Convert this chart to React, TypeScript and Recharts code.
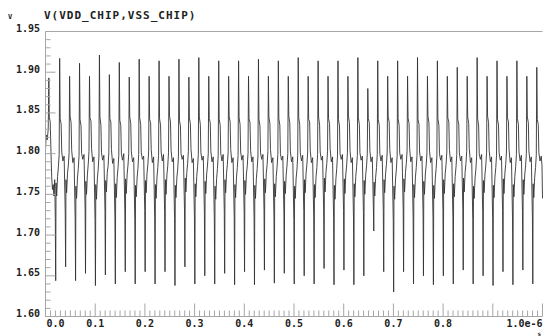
import { LineChart, Line, XAxis, YAxis, ReferenceLine } from 'recharts';

const title = 'V(VDD_CHIP,VSS_CHIP)';
const yUnit = 'V';
const xUnit = 's';

// time in ns, volts
const wave0: [number, number][] = [
  [0,1.806],[1.5,1.823],[3.5,1.817],[5.5,1.830],[6.7,1.893],[7.6,1.845],[9.5,1.839],[11,1.803],[12.5,1.771],[14,1.756],[15.5,1.762],[17,1.748],[18.5,1.768],
  [19.7,1.722],[20.5,1.644],[21.2,1.764],[22.5,1.748],[24.3,1.772],[26,1.784],[27.5,1.799],[28.5,1.917],[29.5,1.843],[31.5,1.836],[32.7,1.802],[35,1.791],[37.5,1.797],
  [39.7,1.728],[40.5,1.661],[41.2,1.768],[42.5,1.752],[44.3,1.776],[46,1.786],[47.5,1.801],[48.5,1.895],[49.5,1.846],[51.5,1.838],[52.7,1.804],[55,1.789],[57.5,1.795],
  [59.7,1.720],[60.5,1.644],[61.2,1.760],[62.5,1.745],[64.3,1.770],[66,1.782],[67.5,1.798],[68.5,1.911],[69.5,1.842],[71.5,1.834],[72.7,1.800],[75,1.793],[77.5,1.799],
  [79.7,1.731],[80.5,1.653],[81.2,1.766],[82.5,1.750],[84.3,1.774],[86,1.787],[87.5,1.803],[88.5,1.895],[89.5,1.844],[91.5,1.840],[92.7,1.806],[95,1.790],[97.5,1.796],
];
const wave1: [number, number][] = [
  [99.7,1.718],[100.5,1.638],[101.2,1.762],[102.5,1.744],[104.3,1.769],[106,1.781],[107.5,1.797],[108.5,1.921],[109.5,1.845],[111.5,1.835],[112.7,1.801],[115,1.792],[117.5,1.798],
  [119.7,1.729],[120.5,1.651],[121.2,1.767],[122.5,1.753],[124.3,1.777],[126,1.785],[127.5,1.802],[128.5,1.897],[129.5,1.843],[131.5,1.839],[132.7,1.805],[135,1.788],[137.5,1.794],
  [139.7,1.721],[140.5,1.640],[141.2,1.763],[142.5,1.746],[144.3,1.771],[146,1.783],[147.5,1.798],[148.5,1.912],[149.5,1.841],[151.5,1.835],[152.7,1.800],[155,1.792],[157.5,1.800],
  [159.7,1.727],[160.5,1.655],[161.2,1.769],[162.5,1.751],[164.3,1.775],[166,1.786],[167.5,1.800],[168.5,1.894],[169.5,1.845],[171.5,1.837],[172.7,1.803],[175,1.790],[177.5,1.795],
  [179.7,1.719],[180.5,1.640],[181.2,1.761],[182.5,1.747],[184.3,1.770],[186,1.782],[187.5,1.799],[188.5,1.916],[189.5,1.844],[191.5,1.836],[192.7,1.801],[195,1.793],[197.5,1.797],
];
const wave2: [number, number][] = [
  [199.7,1.730],[200.5,1.655],[201.2,1.767],[202.5,1.752],[204.3,1.776],[206,1.787],[207.5,1.802],[208.5,1.895],[209.5,1.842],[211.5,1.838],[212.7,1.805],[215,1.789],[217.5,1.796],
  [219.7,1.722],[220.5,1.640],[221.2,1.762],[222.5,1.745],[224.3,1.771],[226,1.783],[227.5,1.798],[228.5,1.914],[229.5,1.843],[231.5,1.835],[232.7,1.802],[235,1.791],[237.5,1.799],
  [239.7,1.728],[240.5,1.655],[241.2,1.768],[242.5,1.750],[244.3,1.774],[246,1.785],[247.5,1.801],[248.5,1.895],[249.5,1.846],[251.5,1.839],[252.7,1.804],[255,1.790],[257.5,1.795],
  [259.7,1.720],[260.5,1.638],[261.2,1.761],[262.5,1.746],[264.3,1.770],[266,1.781],[267.5,1.797],[268.5,1.916],[269.5,1.841],[271.5,1.834],[272.7,1.800],[275,1.793],[277.5,1.798],
  [279.7,1.731],[280.5,1.661],[281.2,1.770],[282.5,1.753],[284.3,1.777],[286,1.788],[287.5,1.803],[288.5,1.894],[289.5,1.844],[291.5,1.837],[292.7,1.806],[295,1.789],[297.5,1.794],
];
const wave3: [number, number][] = [
  [299.7,1.721],[300.5,1.640],[301.2,1.763],[302.5,1.747],[304.3,1.772],[306,1.784],[307.5,1.799],[308.5,1.918],[309.5,1.845],[311.5,1.836],[312.7,1.801],[315,1.792],[317.5,1.797],
  [319.7,1.727],[320.5,1.650],[321.2,1.766],[322.5,1.751],[324.3,1.775],[326,1.786],[327.5,1.800],[328.5,1.895],[329.5,1.843],[331.5,1.838],[332.7,1.803],[335,1.790],[337.5,1.796],
  [339.7,1.719],[340.5,1.640],[341.2,1.760],[342.5,1.744],[344.3,1.769],[346,1.782],[347.5,1.798],[348.5,1.914],[349.5,1.842],[351.5,1.835],[352.7,1.800],[355,1.791],[357.5,1.799],
  [359.7,1.729],[360.5,1.653],[361.2,1.768],[362.5,1.752],[364.3,1.776],[366,1.787],[367.5,1.802],[368.5,1.895],[369.5,1.846],[371.5,1.839],[372.7,1.805],[375,1.789],[377.5,1.795],
  [379.7,1.722],[380.5,1.639],[381.2,1.762],[382.5,1.746],[384.3,1.771],[386,1.783],[387.5,1.798],[388.5,1.914],[389.5,1.844],[391.5,1.836],[392.7,1.802],[395,1.792],[397.5,1.798],
];
const wave4: [number, number][] = [
  [399.7,1.728],[400.5,1.655],[401.2,1.767],[402.5,1.750],[404.3,1.775],[406,1.785],[407.5,1.801],[408.5,1.895],[409.5,1.843],[411.5,1.838],[412.7,1.804],[415,1.790],[417.5,1.796],
  [419.7,1.720],[420.5,1.639],[421.2,1.761],[422.5,1.745],[424.3,1.770],[426,1.782],[427.5,1.797],[428.5,1.916],[429.5,1.842],[431.5,1.834],[432.7,1.801],[435,1.793],[437.5,1.799],
  [439.7,1.730],[440.5,1.657],[441.2,1.769],[442.5,1.752],[444.3,1.776],[446,1.787],[447.5,1.803],[448.5,1.895],[449.5,1.845],[451.5,1.837],[452.7,1.805],[455,1.789],[457.5,1.795],
  [459.7,1.721],[460.5,1.641],[461.2,1.763],[462.5,1.747],[464.3,1.772],[466,1.784],[467.5,1.799],[468.5,1.914],[469.5,1.843],[471.5,1.835],[472.7,1.800],[475,1.792],[477.5,1.797],
  [479.7,1.727],[480.5,1.653],[481.2,1.766],[482.5,1.751],[484.3,1.774],[486,1.786],[487.5,1.800],[488.5,1.895],[489.5,1.846],[491.5,1.838],[492.7,1.803],[495,1.790],[497.5,1.796],
];
const wave5: [number, number][] = [
  [499.7,1.719],[500.5,1.640],[501.2,1.760],[502.5,1.745],[504.3,1.770],[506,1.781],[507.5,1.798],[508.5,1.918],[509.5,1.844],[511.5,1.836],[512.7,1.801],[515,1.791],[517.5,1.798],
  [519.7,1.729],[520.5,1.650],[521.2,1.768],[522.5,1.752],[524.3,1.776],[526,1.787],[527.5,1.802],[528.5,1.895],[529.5,1.842],[531.5,1.839],[532.7,1.804],[535,1.789],[537.5,1.795],
  [539.7,1.722],[540.5,1.640],[541.2,1.762],[542.5,1.746],[544.3,1.771],[546,1.783],[547.5,1.799],[548.5,1.914],[549.5,1.845],[551.5,1.835],[552.7,1.802],[555,1.792],[557.5,1.797],
  [559.7,1.731],[560.5,1.659],[561.2,1.770],[562.5,1.753],[564.3,1.777],[566,1.788],[567.5,1.803],[568.5,1.895],[569.5,1.843],[571.5,1.837],[572.7,1.806],[575,1.790],[577.5,1.796],
  [579.7,1.720],[580.5,1.639],[581.2,1.761],[582.5,1.744],[584.3,1.769],[586,1.782],[587.5,1.797],[588.5,1.914],[589.5,1.842],[591.5,1.834],[592.7,1.800],[595,1.793],[597.5,1.799],
];
const wave6: [number, number][] = [
  [599.7,1.730],[600.5,1.657],[601.2,1.769],[602.5,1.751],[604.3,1.775],[606,1.786],[607.5,1.801],[608.5,1.895],[609.5,1.846],[611.5,1.838],[612.7,1.804],[615,1.789],[617.5,1.795],
  [619.7,1.721],[620.5,1.639],[621.2,1.763],[622.5,1.747],[624.3,1.772],[626,1.784],[627.5,1.798],[628.5,1.918],[629.5,1.844],[631.5,1.836],[632.7,1.801],[635,1.792],[637.5,1.797],
  [639.7,1.728],[640.5,1.650],[641.2,1.767],[642.5,1.750],[644.3,1.774],[646,1.785],[647.5,1.800],[648.5,1.880],[649.5,1.843],[651.5,1.838],[652.7,1.803],[655,1.790],[657.5,1.796],
  [659.7,1.735],[660.5,1.705],[661.2,1.765],[662.5,1.748],[664.3,1.771],[666,1.783],[667.5,1.799],[668.5,1.914],[669.5,1.842],[671.5,1.835],[672.7,1.800],[675,1.791],[677.5,1.798],
  [679.7,1.729],[680.5,1.655],[681.2,1.768],[682.5,1.752],[684.3,1.776],[686,1.787],[687.5,1.802],[688.5,1.895],[689.5,1.845],[691.5,1.839],[692.7,1.805],[695,1.789],[697.5,1.795],
];
const wave7: [number, number][] = [
  [699.7,1.718],[700.5,1.630],[701.2,1.760],[702.5,1.744],[704.3,1.769],[706,1.781],[707.5,1.797],[708.5,1.914],[709.5,1.843],[711.5,1.835],[712.7,1.801],[715,1.793],[717.5,1.799],
  [719.7,1.730],[720.5,1.655],[721.2,1.769],[722.5,1.753],[724.3,1.777],[726,1.788],[727.5,1.803],[728.5,1.895],[729.5,1.844],[731.5,1.837],[732.7,1.806],[735,1.790],[737.5,1.796],
  [739.7,1.721],[740.5,1.640],[741.2,1.762],[742.5,1.746],[744.3,1.771],[746,1.783],[747.5,1.798],[748.5,1.918],[749.5,1.842],[751.5,1.836],[752.7,1.802],[755,1.791],[757.5,1.797],
  [759.7,1.727],[760.5,1.650],[761.2,1.766],[762.5,1.750],[764.3,1.775],[766,1.786],[767.5,1.801],[768.5,1.895],[769.5,1.846],[771.5,1.838],[772.7,1.803],[775,1.789],[777.5,1.795],
  [779.7,1.720],[780.5,1.639],[781.2,1.761],[782.5,1.745],[784.3,1.770],[786,1.782],[787.5,1.797],[788.5,1.914],[789.5,1.843],[791.5,1.835],[792.7,1.800],[795,1.792],[797.5,1.798],
];
const wave8: [number, number][] = [
  [799.7,1.729],[800.5,1.650],[801.2,1.768],[802.5,1.751],[804.3,1.776],[806,1.787],[807.5,1.802],[808.5,1.895],[809.5,1.844],[811.5,1.839],[812.7,1.805],[815,1.790],[817.5,1.796],
  [819.7,1.722],[820.5,1.640],[821.2,1.763],[822.5,1.747],[824.3,1.772],[826,1.784],[827.5,1.799],[828.5,1.906],[829.5,1.842],[831.5,1.836],[832.7,1.801],[835,1.791],[837.5,1.797],
  [839.7,1.731],[840.5,1.657],[841.2,1.770],[842.5,1.753],[844.3,1.777],[846,1.788],[847.5,1.803],[848.5,1.895],[849.5,1.845],[851.5,1.837],[852.7,1.806],[855,1.789],[857.5,1.795],
  [859.7,1.719],[860.5,1.640],[861.2,1.760],[862.5,1.745],[864.3,1.770],[866,1.781],[867.5,1.797],[868.5,1.918],[869.5,1.843],[871.5,1.834],[872.7,1.800],[875,1.793],[877.5,1.799],
  [879.7,1.728],[880.5,1.650],[881.2,1.767],[882.5,1.752],[884.3,1.775],[886,1.786],[887.5,1.801],[888.5,1.895],[889.5,1.846],[891.5,1.838],[892.7,1.804],[895,1.790],[897.5,1.796],
];
const wave9: [number, number][] = [
  [899.7,1.720],[900.5,1.638],[901.2,1.761],[902.5,1.746],[904.3,1.771],[906,1.783],[907.5,1.798],[908.5,1.914],[909.5,1.842],[911.5,1.835],[912.7,1.801],[915,1.792],[917.5,1.797],
  [919.7,1.730],[920.5,1.655],[921.2,1.769],[922.5,1.751],[924.3,1.776],[926,1.787],[927.5,1.802],[928.5,1.895],[929.5,1.844],[931.5,1.839],[932.7,1.805],[935,1.789],[937.5,1.795],
  [939.7,1.721],[940.5,1.639],[941.2,1.762],[942.5,1.747],[944.3,1.772],[946,1.784],[947.5,1.799],[948.5,1.914],[949.5,1.843],[951.5,1.836],[952.7,1.802],[955,1.791],[957.5,1.798],
  [959.7,1.729],[960.5,1.657],[961.2,1.768],[962.5,1.750],[964.3,1.774],[966,1.785],[967.5,1.800],[968.5,1.895],[969.5,1.845],[971.5,1.838],[972.7,1.803],[975,1.790],[977.5,1.796],
  [979.7,1.722],[980.5,1.640],[981.2,1.763],[982.5,1.746],[984.3,1.771],[986,1.783],[987.5,1.798],[988.5,1.906],[989.5,1.842],[991.5,1.836],[992.7,1.801],[995,1.791],[997.5,1.797],
  [999,1.785],[1000,1.745],
];

const xLabels = ['0.0', '0.1', '0.2', '0.3', '0.4', '0.5', '0.6', '0.7', '0.8', '', '1.0e-6'];
const yLabels = ['1.60', '1.65', '1.70', '1.75', '1.80', '1.85', '1.90', '1.95'];

const data = [...wave0, ...wave1, ...wave2, ...wave3, ...wave4, ...wave5, ...wave6, ...wave7, ...wave8, ...wave9]
  .map(([t, v]) => ({ t, v }));

const xTicks = Array.from({ length: 101 }, (_, i) => i * 10);
const yTicks = Array.from({ length: 36 }, (_, i) => +(1.6 + i * 0.01).toFixed(2));

const axisColor = '#a6a6a6';
const font = '"DejaVu Sans Mono", monospace';

const YTick = (props: any) => {
  const { x, y, payload } = props;
  const i = Math.round((payload.value - 1.6) * 100);
  const major = i % 5 === 0;
  return (
    <g>
      <line x1={x} x2={x + (major ? 10 : 5)} y1={y} y2={y} stroke={axisColor} />
      {major && (
        <text x={x - 5.5} y={y + 0.5} textAnchor="end" fontFamily={font} fontWeight="bold" fontSize={10} fill="#222">
          {yLabels[i / 5]}
        </text>
      )}
    </g>
  );
};

const XTick = (props: any) => {
  const { x, y, payload } = props;
  const i = Math.round(payload.value / 10);
  const major = i % 10 === 0;
  const label = major ? xLabels[i / 10] : '';
  const anchor = i === 0 ? 'start' : i === 100 ? 'end' : 'middle';
  return (
    <g>
      <line x1={x} x2={x} y1={y} y2={y - (major ? 13 : 6)} stroke={axisColor} />
      {label && (
        <text x={i === 0 ? x + 1 : x} y={y + 10.5} textAnchor={anchor} fontFamily={font} fontWeight="bold" fontSize={10} fill="#222">
          {label}
        </text>
      )}
    </g>
  );
};

export default function App() {
  return (
    <div style={{ position: 'absolute', left: 0, top: 0, width: 543, height: 336, background: '#fff' }}>
      <LineChart width={543} height={336} data={data} margin={{ top: 31.5, right: 0.5, bottom: 0, left: 0 }}>
        <XAxis
          dataKey="t"
          type="number"
          domain={[0, 1000]}
          ticks={xTicks}
          interval={0}
          height={19.5}
          tickSize={0}
          tickMargin={0}
          tickLine={false}
          axisLine={{ stroke: axisColor }}
          tick={<XTick />}
        />
        <YAxis
          type="number"
          domain={[1.6, 1.95]}
          ticks={yTicks}
          interval={0}
          width={45.5}
          tickSize={0}
          tickMargin={0}
          tickLine={false}
          axisLine={{ stroke: axisColor }}
          tick={<YTick />}
        />
        <ReferenceLine y={1.95} stroke={axisColor} />
        <Line type="linear" dataKey="v" stroke="#333" strokeWidth={0.9} dot={false} isAnimationActive={false} />
      </LineChart>
      <svg width={543} height={336} style={{ position: 'absolute', left: 0, top: 0, pointerEvents: 'none' }}>
        <text x={8} y={18.5} fontFamily={font} fontWeight="bold" fontSize={7} fill="#222">{yUnit}</text>
        <text x={44} y={18.5} fontFamily={font} fontWeight="bold" fontSize={11} letterSpacing={1} fill="#222">{title}</text>
        <text x={541} y={335.5} textAnchor="end" fontFamily={font} fontWeight="bold" fontSize={6} fill="#222">{xUnit}</text>
      </svg>
    </div>
  );
}
